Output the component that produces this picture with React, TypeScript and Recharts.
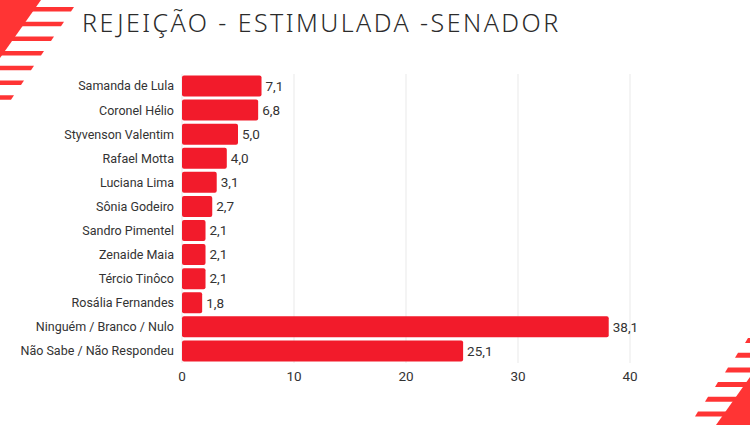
import React from "react";
import { BarChart, Bar, XAxis, YAxis, CartesianGrid, LabelList } from "recharts";

// ── Data ─────────────────────────────────────────────────────
const CANDIDATES = [
  "Samanda de Lula",
  "Coronel Hélio",
  "Styvenson Valentim",
  "Rafael Motta",
  "Luciana Lima",
  "Sônia Godeiro",
  "Sandro Pimentel",
  "Zenaide Maia",
  "Tércio Tinôco",
  "Rosália Fernandes",
  "Ninguém / Branco / Nulo",
  "Não Sabe / Não Respondeu",
];
const REJECTION = [7.1, 6.8, 5.0, 4.0, 3.1, 2.7, 2.1, 2.1, 2.1, 1.8, 38.1, 25.1];
const X_TICKS = [0, 10, 20, 30, 40];

const TITLE = "REJEIÇÃO - ESTIMULADA -SENADOR";

const COLORS = {
  bar: "#f21b2b",
  stripe: "#ff3434",
  grid: "#e9e9e9",
  text: "#333333",
  title: "#2b2b2b",
};

const data = CANDIDATES.map((name, i) => ({ name, value: REJECTION[i] }));

const fmt = (v: number) => v.toFixed(1).replace(".", ",");

// ── Decorative stripes ───────────────────────────────────────
function TopLeftStripes() {
  const rows = [0, 1, 2, 3, 4, 5, 6];
  return (
    <svg width={90} height={110} style={{ position: "absolute", left: 0, top: 0 }}>
      <polygon points="0,0 41,0 0,58" fill={COLORS.stripe} />
      {rows.map((i) => {
        const y = 7 + i * 14.7;
        const right = 74 - i * 10;
        return (
          <polygon
            key={i}
            points={`0,${y} ${right},${y} ${right - 3},${y + 4.5} 0,${y + 4.5}`}
            fill={COLORS.stripe}
          />
        );
      })}
    </svg>
  );
}

function BottomRightStripes() {
  const rows = [0, 1, 2, 3, 4, 5];
  return (
    <svg width={90} height={110} style={{ position: "absolute", left: 660, top: 315 }}>
      <polygon points="90,62 90,110 56,110" fill={COLORS.stripe} />
      {rows.map((i) => {
        const y = 23 + i * 14.7;
        const left = 88 - i * 10;
        return (
          <polygon
            key={i}
            points={`${left},${y} 90,${y} 90,${y + 5} ${left - 3},${y + 5}`}
            fill={COLORS.stripe}
          />
        );
      })}
    </svg>
  );
}

// ── Main ─────────────────────────────────────────────────────
export default function App() {
  return (
    <div
      style={{
        position: "absolute",
        left: 0,
        top: 0,
        width: 750,
        height: 425,
        background: "#ffffff",
        overflow: "hidden",
        fontFamily: "Roboto, sans-serif",
      }}
    >
      <TopLeftStripes />
      <BottomRightStripes />
      <div
        style={{
          position: "absolute",
          left: 82,
          top: 5,
          fontFamily: "'Noto Sans', sans-serif",
          fontWeight: 300,
          fontSize: 25,
          letterSpacing: 2.45,
          color: COLORS.title,
          whiteSpace: "nowrap",
        }}
      >
        {TITLE}
      </div>
      <BarChart
        width={750}
        height={425}
        data={data}
        layout="vertical"
        margin={{ top: 74, right: 120, bottom: 42, left: 0 }}
        barCategoryGap={1.5}
      >
        <CartesianGrid horizontal={false} stroke={COLORS.grid} />
        <XAxis
          type="number"
          domain={[0, 40]}
          ticks={X_TICKS}
          axisLine={false}
          tickLine={false}
          height={20}
          tick={{ fill: COLORS.text, fontSize: 13.5 }}
          tickMargin={2}
        />
        <YAxis
          type="category"
          dataKey="name"
          width={182}
          axisLine={false}
          tickLine={false}
          interval={0}
          tick={{ fill: COLORS.text, fontSize: 12.5 }}
        />
        <Bar
          dataKey="value"
          fill={COLORS.bar}
          radius={[2, 2, 2, 2]}
          isAnimationActive={false}
        >
          <LabelList
            dataKey="value"
            position="right"
            offset={4}
            formatter={(v: any) => fmt(Number(v))}
            style={{ fill: COLORS.text, fontSize: 13.5 }}
          />
        </Bar>
      </BarChart>
    </div>
  );
}
